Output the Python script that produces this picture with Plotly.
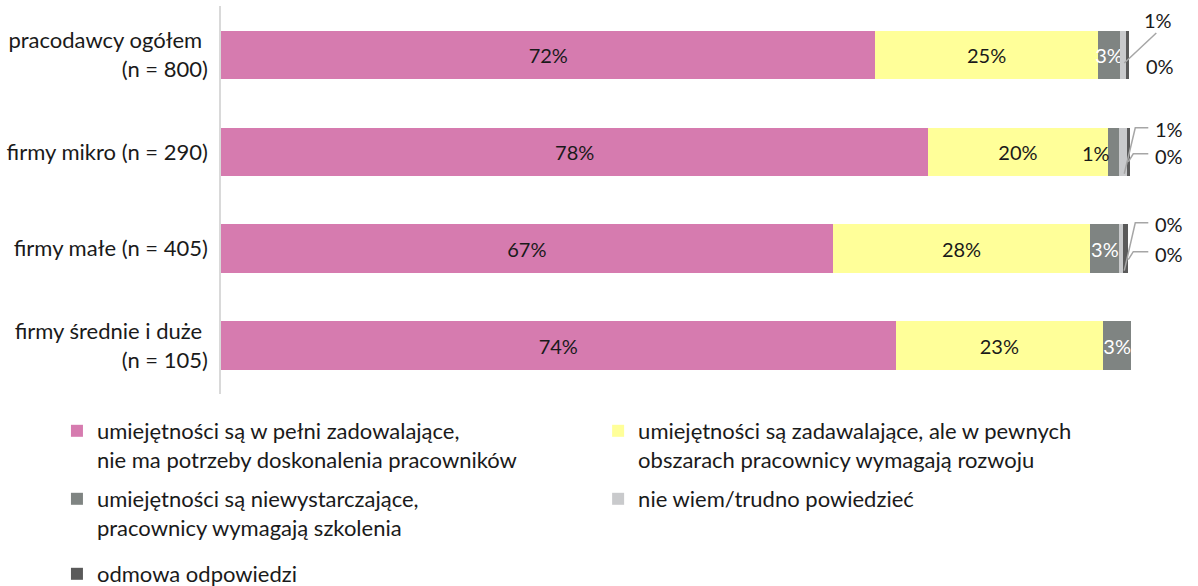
import plotly.graph_objects as go

categories = ["pracodawcy ogółem\u00a0<br>(n = 800)", "firmy mikro (n = 290)",
              "firmy małe (n = 405)", "firmy średnie i duże\u00a0<br>(n = 105)"]
series_names = ["umiejętności są w pełni zadowalające,<br>nie ma potrzeby doskonalenia pracowników",
                "umiejętności są zadawalające, ale w pewnych<br>obszarach pracownicy wymagają rozwoju",
                "umiejętności są niewystarczające,<br>pracownicy wymagają szkolenia",
                "nie wiem/trudno powiedzieć",
                "odmowa odpowiedzi"]
full = [71.9, 77.7, 67.2, 74.1]
partly = [24.4, 19.7, 28.3, 22.8]
insufficient = [2.5, 1.3, 3.2, 3.1]
dont_know = [0.6, 0.8, 0.4, 0.0]
refused = [0.4, 0.4, 0.5, 0.0]
labels_full = ["72%", "78%", "67%", "74%"]
labels_partly = ["25%", "20%", "28%", "23%"]
labels_insuff = ["3%", "1%", "3%", "3%"]
labels_dk = ["1%", "1%", "0%", None]
labels_ref = ["0%", "0%", "0%", None]

colors = ["#D67BAF", "#FFFF99", "#7F8482", "#C9CACC", "#5A5A5A"]
FONT = "Lato"
TXT = "#1a1a1a"
FS = 20
FS_BIG = 22

fig = go.Figure()
fig.add_bar(y=categories, x=full, orientation="h", name=series_names[0], marker_color=colors[0],
            text=labels_full, textposition="inside", insidetextanchor="middle", textangle=0,
            textfont=dict(color=TXT, size=FS, family=FONT), legend="legend")
fig.add_bar(y=categories, x=partly, orientation="h", name=series_names[1], marker_color=colors[1],
            text=labels_partly, textposition="inside", insidetextanchor="middle", textangle=0,
            textfont=dict(color=TXT, size=FS, family=FONT), legend="legend2")
ins_text = [t if v >= 2 else "" for t, v in zip(labels_insuff, insufficient)]
fig.add_bar(y=categories, x=insufficient, orientation="h", name=series_names[2], marker_color=colors[2],
            text=ins_text, textposition="inside", insidetextanchor="middle", constraintext="none",
            textangle=0, cliponaxis=False,
            textfont=dict(color="white", size=FS, family=FONT), legend="legend3")
fig.add_bar(y=categories, x=dont_know, orientation="h", name=series_names[3], marker_color=colors[3],
            legend="legend4")
fig.add_bar(y=categories, x=refused, orientation="h", name=series_names[4], marker_color=colors[4],
            legend="legend5")

for tr in fig.data:
    tr.marker.line.width = 0
    tr.hoverinfo = "skip"

# helpers for placement of decorations
X0, PXPCT = 221, 9.1
CENTERS = [55, 151, 248, 345]
def dx(px):
    return (px - X0) / PXPCT
def dy(i, py):
    return i + (py - CENTERS[i]) / 97.0

afont = dict(size=FS, color=TXT, family=FONT)
ann = []
shapes = []
ann.append(dict(x=dx(1096), y=dy(1, 152), text=labels_insuff[1], showarrow=False, font=afont))
ann.append(dict(x=dx(1158), y=dy(0, 20), text=labels_dk[0], showarrow=False, font=afont))
ann.append(dict(x=dx(1160), y=dy(0, 66), text=labels_ref[0], showarrow=False, font=afont))
shapes.append(dict(type="line", x0=dx(1156), y0=dy(0, 33), x1=dx(1124), y1=dy(0, 63),
                   line=dict(color="#A6A6A6", width=1.5)))
rows = [(1, 128, 155, labels_dk[1], labels_ref[1]), (2, 223, 253, labels_dk[2], labels_ref[2])]
for i, ya, yb, la, lb in rows:
    ann.append(dict(x=dx(1169), y=dy(i, ya), text=la, showarrow=False, font=afont))
    ann.append(dict(x=dx(1169), y=dy(i, yb), text=lb, showarrow=False, font=afont))
    bot = CENTERS[i] + 22
    shapes.append(dict(type="path",
                       path=f"M {dx(1148)} {dy(i, ya - 1)} L {dx(1135)} {dy(i, ya - 1)} L {dx(1124)} {dy(i, bot)}",
                       line=dict(color="#A6A6A6", width=1.5)))
    shapes.append(dict(type="path",
                       path=f"M {dx(1148)} {dy(i, yb - 2)} L {dx(1133)} {dy(i, yb - 2)} L {dx(1128)} {dy(i, yb + 6)}",
                       line=dict(color="#A6A6A6", width=1.5)))

XMAX = 107
plot_w = XMAX * PXPCT
PLOT_H = 586 - 6 - 192

def legend_at(px, py_top):
    return dict(orientation="v", x=(px - X0) / plot_w, y=(394 - py_top) / PLOT_H,
                xanchor="left", yanchor="top", valign="top", itemwidth=30,
                font=dict(size=FS_BIG, family=FONT, color=TXT), bgcolor="rgba(0,0,0,0)",
                borderwidth=0)

fig.update_layout(
    barmode="stack",
    bargap=0.5,
    width=1198, height=586,
    margin=dict(l=221, r=1198 - 221 - plot_w, t=6, b=192, autoexpand=False),
    paper_bgcolor="white", plot_bgcolor="white",
    font=dict(family=FONT, size=FS, color=TXT),
    showlegend=True,
    legend=legend_at(57, 410),
    legend2=legend_at(598, 410),
    legend3=legend_at(57, 478),
    legend4=legend_at(598, 478),
    legend5=legend_at(57, 553),
    annotations=ann,
    shapes=shapes,
    uniformtext=dict(minsize=10, mode="show"),
)
fig.update_xaxes(range=[0, XMAX], visible=False, fixedrange=True)
fig.update_yaxes(autorange="reversed", showline=True, linecolor="#D9D9D9", linewidth=1.5,
                 showgrid=False, ticks="", ticklabelstandoff=7,
                 tickfont=dict(size=FS_BIG, family=FONT, color=TXT))

fig.write_html("out.html")
